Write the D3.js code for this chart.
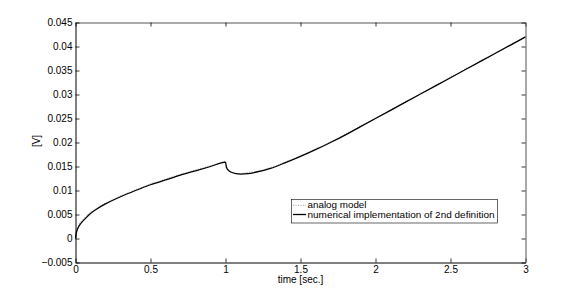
<!DOCTYPE html>
<html><head><meta charset="utf-8">
<script src="https://cdn.jsdelivr.net/npm/d3@7"></script>
<style>body{margin:0;background:#fff}svg{display:block}text{font-family:"Liberation Sans",Arial,sans-serif;}</style>
</head><body><svg id="c" width="581" height="295"></svg>
<script>
const time = [0,0.005,0.01,0.02,0.04,0.07,0.1,0.15,0.2,0.3,0.4,0.5,0.6,0.7,0.8,0.9,1.0,1.005,1.01,1.02,1.04,1.07,1.1,1.15,1.2,1.3,1.4,1.5,1.6,1.7,1.8,1.9,2.0,2.1,2.2,2.3,2.4,2.5,2.6,2.7,2.8,2.9,3.0];
const numerical = [0,0.0011,0.0017,0.0024,0.0033,0.0043,0.0052,0.0063,0.0072,0.0087,0.0100,0.0112,0.0122,0.0132,0.0141,0.0150,0.0159,0.0150,0.0146,0.0142,0.0138,0.0135,0.0134,0.0135,0.0138,0.0146,0.0158,0.0171,0.0185,0.0200,0.0216,0.0233,0.0250,0.0267,0.0284,0.0301,0.0318,0.0335,0.0352,0.0369,0.0386,0.0403,0.0420];
const analogTime = [0,0.02,0.05,0.08,0.12,0.16,0.2,0.25,0.3,0.35,0.4,0.45,0.5,0.55,0.6,0.65,0.7,0.75,0.8,0.85,0.9,0.95,1.0,1.01,1.03,1.06,1.1,1.15,1.2,1.25,1.3,1.35,1.4,1.45,1.5,1.55,1.6,1.65,1.7,1.75,1.8,1.85,1.9,1.95,2.0,2.05,2.1,2.15,2.2,2.25,2.3,2.35,2.4,2.45,2.5,2.55,2.6,2.65,2.7,2.75,2.8,2.85,2.9,2.95,3.0];
const analog = [0,0.0026,0.0040,0.0050,0.0059,0.0067,0.0074,0.0081,0.0089,0.0095,0.0102,0.0107,0.0114,0.0118,0.0124,0.0129,0.0134,0.0138,0.0143,0.0147,0.0152,0.0156,0.0161,0.0147,0.0140,0.0136,0.0135,0.0138,0.0139,0.0143,0.0148,0.0153,0.0160,0.0165,0.0173,0.0179,0.0187,0.0193,0.0202,0.0208,0.0218,0.0225,0.0235,0.0242,0.0252,0.0259,0.0269,0.0276,0.0286,0.0292,0.0303,0.0309,0.0320,0.0326,0.0337,0.0343,0.0354,0.0360,0.0371,0.0377,0.0388,0.0394,0.0405,0.0411,0.0421];
const xTicks = [0,0.5,1,1.5,2,2.5,3];
const xTickLabels = ["0","0.5","1","1.5","2","2.5","3"];
const yTicks = [-0.005,0,0.005,0.01,0.015,0.02,0.025,0.03,0.035,0.04,0.045];
const yTickLabels = ["\u22120.005","0","0.005","0.01","0.015","0.02","0.025","0.03","0.035","0.04","0.045"];
const legendLabels = ["analog model","numerical implementation of 2nd definition"];
const legendWidths = [59,187];

const svg = d3.select("#c");
const L=75.5, R=525.5, T=22.5, B=262.5;
const x = d3.scaleLinear().domain([0,3]).range([L,R]);
const y = d3.scaleLinear().domain([-0.005,0.045]).range([B,T]);
const fs = 10;

// analog (dotted gray)
const lineA = d3.line().x((d,i)=>x(analogTime[i])).y(d=>y(d)).curve(d3.curveMonotoneX);
svg.append("path").attr("d", lineA(analog)).attr("fill","none")
  .attr("stroke","#999").attr("stroke-width",0.9).attr("stroke-dasharray","1,1.5");

// numerical (solid black)
const lineN = d3.line().x((d,i)=>x(time[i])).y(d=>y(d)).curve(d3.curveMonotoneX);
svg.append("path").attr("d", lineN(numerical)).attr("fill","none")
  .attr("stroke","#000").attr("stroke-width",1.3);

// axes
const ax = svg.append("g").attr("transform",`translate(0,${B})`)
  .call(d3.axisBottom(x).tickValues(xTicks).tickFormat((d,i)=>xTickLabels[i]).tickSizeInner(-4).tickSizeOuter(0).tickPadding(3));
const axT = svg.append("g").attr("transform",`translate(0,${T})`)
  .call(d3.axisTop(x).tickValues(xTicks).tickFormat("").tickSizeInner(-4).tickSizeOuter(0));
const ay = svg.append("g").attr("transform",`translate(${L},0)`)
  .call(d3.axisLeft(y).tickValues(yTicks).tickFormat((d,i)=>yTickLabels[i]).tickSizeInner(-4).tickSizeOuter(0).tickPadding(3));
const ayR = svg.append("g").attr("transform",`translate(${R},0)`)
  .call(d3.axisRight(y).tickValues(yTicks).tickFormat("").tickSizeInner(-4).tickSizeOuter(0));
[ax,axT,ay,ayR].forEach(g=>{
  g.selectAll("path").attr("stroke","#000").attr("stroke-width",1);
  g.selectAll("line").attr("stroke","#000").attr("stroke-width",0.8);
  g.selectAll("text").attr("font-size",fs).attr("font-family","Liberation Sans, Arial, sans-serif").attr("fill","#000");
});
[axT,ayR].forEach(g=>g.select("path").attr("stroke","#555"));

// labels
svg.append("text").attr("x",(L+R)/2).attr("y",283).attr("text-anchor","middle").attr("font-size",fs).text("time [sec.]");
svg.append("text").attr("transform","translate(40,141) rotate(-90)").attr("text-anchor","middle").attr("font-size",fs).text("[V]");

// legend
const lg = svg.append("g");
lg.append("rect").attr("x",291.5).attr("y",199.5).attr("width",206).attr("height",23.5).attr("fill","#fff").attr("stroke","#000").attr("stroke-width",0.6);
const rows = [205.3,214.5];
lg.append("line").attr("x1",293).attr("x2",306).attr("y1",rows[0]).attr("y2",rows[0]).attr("stroke","#888").attr("stroke-width",0.8).attr("stroke-dasharray","1,1.5");
lg.append("line").attr("x1",293).attr("x2",306).attr("y1",rows[1]).attr("y2",rows[1]).attr("stroke","#000").attr("stroke-width",1.3);
legendLabels.forEach((t,i)=>{
  lg.append("text").attr("x",307.5).attr("y",rows[i]).attr("dy","0.35em").attr("font-size",8.6)
    .attr("textLength",legendWidths[i]).attr("lengthAdjust","spacingAndGlyphs").text(t);
});
</script></body></html>
